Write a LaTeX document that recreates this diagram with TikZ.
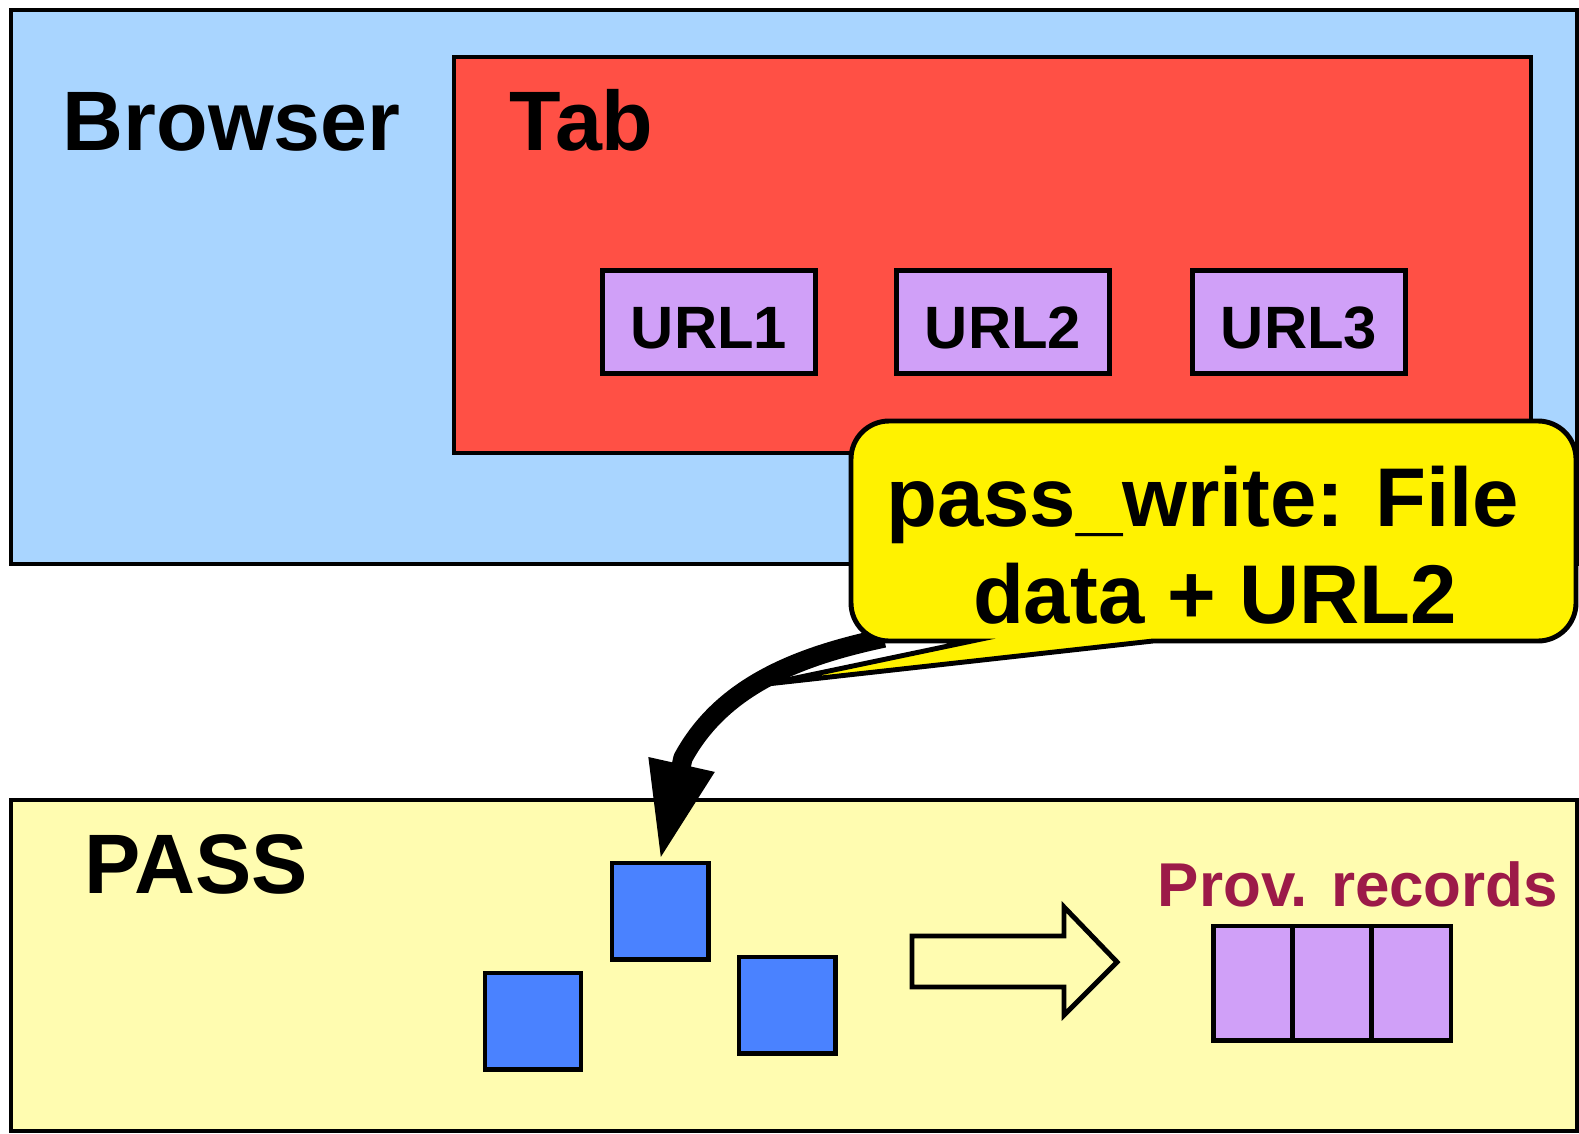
\documentclass[tikz,border=0pt]{standalone}
\usepackage{fontspec}
\setmainfont{Liberation Sans}
\usetikzlibrary{arrows.meta,positioning}

\definecolor{browserblue}{HTML}{A9D5FF}
\definecolor{tabred}{HTML}{FF5045}
\definecolor{urlpurple}{HTML}{D0A0F8}
\definecolor{passyellow}{HTML}{FFFCB0}
\definecolor{blockblue}{HTML}{4A82FF}
\definecolor{provred}{HTML}{9C1A48}

\begin{document}
\begin{tikzpicture}[x=0.01cm,y=-0.01cm,
  box/.style={draw,line width=1.4pt},
  title/.style={anchor=base west,inner sep=0pt,font=\fontsize{24}{29}\selectfont\bfseries},
  urlbox/.style={box,fill=urlpurple,minimum width=2.12cm,minimum height=1.03cm,inner sep=0pt,
    text height=15.2pt,text depth=0pt,font=\fontsize{17}{20}\selectfont\bfseries},
  block/.style={box,fill=blockblue,minimum size=0.96cm,inner sep=0pt},
  recbox/.style={box,fill=urlpurple,minimum width=0.793cm,minimum height=1.14cm,inner sep=0pt},
  flowarrow/.style={line width=5.5pt,line join=round,-{Triangle[width=17.6pt,length=28pt]}}]

  \useasboundingbox (0,0) rectangle (1579,1133);

  % 1. Browser with its tab
  \draw[box,fill=browserblue] (11,10) rectangle (1577,564);
  \node[title] (browser) at (62,150) {Browser};
  \draw[box,fill=tabred] (454,57) rectangle (1531,453);
  \node[title] (tab) at (509,150) {Tab};
  \foreach \i/\x in {1/709,2/1003,3/1299}
    \node[urlbox] (url\i) at (\x,322) {URL\i};

  % 2. PASS
  \draw[box,fill=passyellow] (11,800) rectangle (1577,1131);
  \node[title] (pass) at (84,893) {PASS};
  \node[block] (sq1) at (660,911) {};
  \node[block] (sq2) at (533,1021) {};
  \node[block] (sq3) at (787,1005) {};
  \draw[box,fill=passyellow] (912,936) -- (1064,936) -- (1064,907) -- (1117,962)
    -- (1064,1015) -- (1064,987) -- (912,987) -- cycle;
  \node[anchor=base,font=\fontsize{17.6}{21}\selectfont\bfseries,text=provred] (provlabel) at (1358,906) {Prov. records};
  \foreach \i/\x in {1/1252.7,2/1332,3/1411.3}
    \node[recbox] (rec\i) at (\x,983) {};

  % 3. write arrow, running out from under the callout
  \coordinate (writefrom) at (884,638);
  \coordinate (bend) at (683,758);
  \draw[flowarrow] (writefrom) .. controls (794,657) and (721,688) .. (bend) -- (sq1.north);

  % 4. callout
  \draw[box,fill=yellow] (889,421) -- (1538,421) arc[start angle=270,end angle=360,radius=38]
    -- (1576,603) arc[start angle=0,end angle=90,radius=38]
    -- (1153,641) -- (767,684) -- (972,641)
    -- (889,641) arc[start angle=90,end angle=180,radius=38]
    -- (851,459) arc[start angle=180,end angle=270,radius=38] -- cycle;
  \node[font=\fontsize{23.7}{27.6}\selectfont\bfseries,align=center] (note) at (1215,545) {pass\_write: File\hspace*{7pt}\\data + URL2};

\end{tikzpicture}
\end{document}
